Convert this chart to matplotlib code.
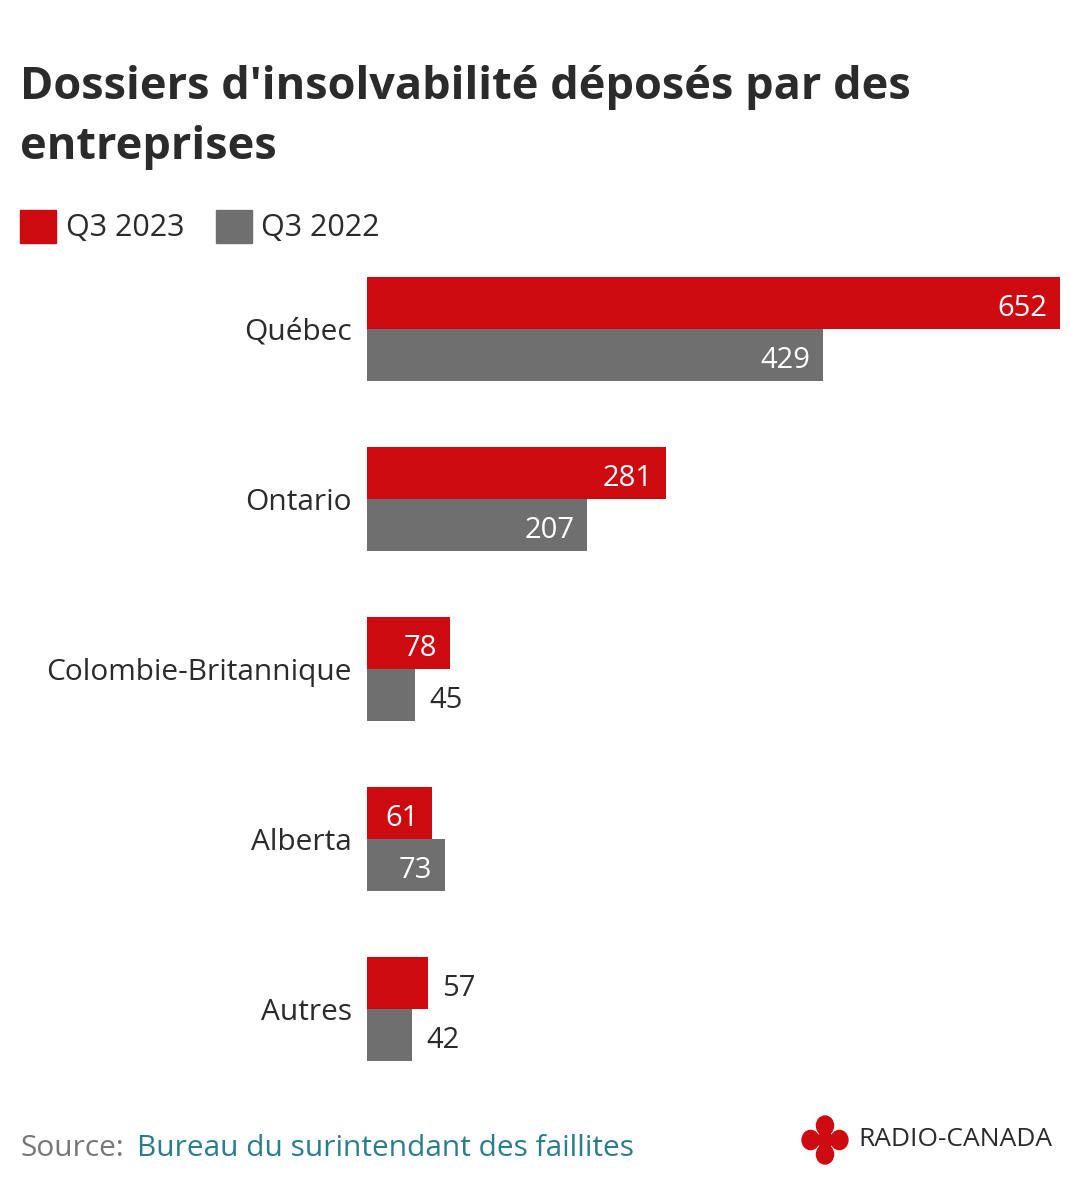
import matplotlib.pyplot as plt
import numpy as np

regions = ['Québec', 'Ontario', 'Colombie-Britannique', 'Alberta', 'Autres']
q3_2023 = [652, 281, 78, 61, 57]
q3_2022 = [429, 207, 45, 73, 42]

red = '#cc0a0f'
grey = '#6f6f6f'
dark = '#2b2b2b'

plt.rcParams['font.family'] = ['Open Sans', 'DejaVu Sans']

fig = plt.figure(figsize=(10.7, 12), dpi=100)
ax = fig.add_axes([367/1070, 0.1, 693/1070, 0.7917-0.1])

y = np.arange(len(regions))
h = 52/170
ax.barh(y - h/2, q3_2023, height=h, color=red)
ax.barh(y + h/2, q3_2022, height=h, color=grey)
ax.set_xlim(0, 652)
ax.set_ylim(4.418, -0.465)
ax.axis('off')

def lab(v, yy):
    if v > 58:
        ax.text(v - 12, yy + 0.03, str(v), ha='right', va='center', color='white', fontsize=21)
    else:
        ax.text(v + 14, yy + 0.03, str(v), ha='left', va='center', color=dark, fontsize=21)

for i in range(len(regions)):
    lab(q3_2023[i], y[i] - h/2)
    lab(q3_2022[i], y[i] + h/2)
    ax.text(-14, y[i] + 0.02, regions[i], ha='right', va='center', color=dark, fontsize=21.5)

fig.text(20/1070, 1 - 88/1200, "Dossiers d'insolvabilité déposés par des", fontsize=32.5,
         fontweight='bold', color=dark, va='center')
fig.text(20/1070, 1 - 147/1200, "entreprises", fontsize=32.5, fontweight='bold', color=dark, va='center')

fig.patches.append(plt.Rectangle((20/1070, 1 - 243/1200), 36/1070, 33/1200, color=red,
                                 transform=fig.transFigure))
fig.text(66/1070, 1 - 228/1200, 'Q3 2023', fontsize=22, color=dark, va='center')
fig.patches.append(plt.Rectangle((216/1070, 1 - 243/1200), 36/1070, 33/1200, color=grey,
                                 transform=fig.transFigure))
fig.text(261/1070, 1 - 228/1200, 'Q3 2022', fontsize=22, color=dark, va='center')

fig.text(20/1070, 1 - 1148/1200, 'Source:', fontsize=21.5, color='#777777', va='center')
fig.text(137/1070, 1 - 1148/1200, 'Bureau du surintendant des faillites', fontsize=21.5,
         color='#2a7d8c', va='center')

# logo
cx, cy = 825/1070, 1 - 1140/1200
for dx, dy in [(0, 0.012), (0, -0.012), (0.012, 0), (-0.012, 0)]:
    fig.patches.append(plt.Circle((cx + dx*1200/1070, cy + dy), 0.008, color=red,
                                  transform=fig.transFigure))
fig.patches.append(plt.Circle((cx, cy), 0.007, color=red, transform=fig.transFigure))
fig.text(858/1070, cy, 'RADIO-CANADA', fontsize=19, color=dark, va='center')

fig.savefig('out.png', dpi=100, facecolor='white')
